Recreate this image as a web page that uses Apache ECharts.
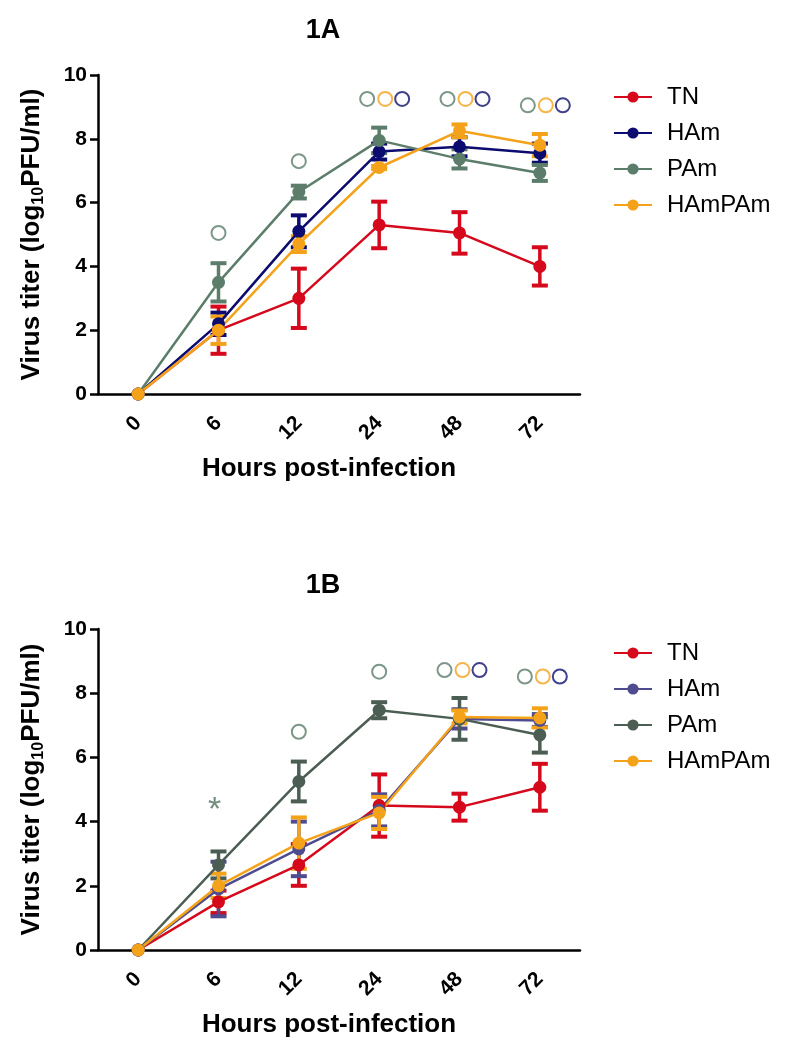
<!DOCTYPE html>
<html>
<head>
<meta charset="utf-8">
<script src="https://cdn.jsdelivr.net/npm/echarts@6/dist/echarts.min.js"></script>
<style>
  html, body { margin: 0; padding: 0; background: #fff; }
  #a { width: 793px; height: 545px; }
  #b { width: 793px; height: 505px; }
</style>
</head>
<body>
<div id="a"></div>
<div id="b"></div>
<script>
var hours = ['0', '6', '12', '24', '48', '72'];
var yTicks = [0, 2, 4, 6, 8, 10];
var names = ['TN', 'HAm', 'PAm', 'HAmPAm'];

// 1A  mean / error
var tnA = [0, 2.0, 3.0, 5.3, 5.05, 4.0];
var tnAErr = [0, 0.74, 0.93, 0.73, 0.65, 0.6];
var hamA = [0, 2.2, 5.1, 7.6, 7.75, 7.55];
var hamAErr = [0, 0.35, 0.5, 0.25, 0.3, 0.3];
var pamA = [0, 3.5, 6.33, 7.95, 7.37, 6.93];
var pamAErr = [0, 0.6, 0.2, 0.4, 0.3, 0.25];
var hpA = [0, 2.0, 4.7, 7.1, 8.25, 7.8];
var hpAErr = [0, 0.43, 0.25, 0.05, 0.2, 0.35];

// 1B  mean / error
var tnB = [0, 1.5, 2.65, 4.5, 4.45, 5.07];
var tnBErr = [0, 0.35, 0.65, 0.97, 0.42, 0.73];
var hamB = [0, 1.9, 3.15, 4.35, 7.2, 7.15];
var hamBErr = [0, 0.85, 0.85, 0.5, 0.3, 0.2];
var pamB = [0, 2.65, 5.25, 7.47, 7.2, 6.7];
var pamBErr = [0, 0.42, 0.62, 0.25, 0.65, 0.55];
var hpB = [0, 2.0, 3.33, 4.27, 7.26, 7.23];
var hpBErr = [0, 0.38, 0.8, 0.5, 0.2, 0.3];

// significance marks (open circles) per group
var sigA_PAm = [['6', 5.05], ['12', 7.3], ['24', 9.25], ['48', 9.25], ['72', 9.05]];
var sigA_HAmPAm = [['24', 9.25], ['48', 9.25], ['72', 9.05]];
var sigA_HAm = [['24', 9.25], ['48', 9.25], ['72', 9.05]];
var sigB_PAm = [['12', 6.8], ['24', 8.67], ['48', 8.72], ['72', 8.52]];
var sigB_HAmPAm = [['48', 8.72], ['72', 8.52]];
var sigB_HAm = [['48', 8.72], ['72', 8.52]];
var starB = [['6', 4.35]];

var FONT = "'Liberation Sans', Arial, sans-serif";

function errBar(color) {
    return function (params, api) {
        var i = api.value(0);
        var lo = api.coord([i, api.value(1)]);
        var hi = api.coord([i, api.value(2)]);
        var w = 8;
        var st = { stroke: color, lineWidth: 3.5 };
        var cap = { stroke: color, lineWidth: 4 };
        return {
            type: 'group',
            children: [
                { type: 'line', shape: { x1: hi[0], y1: hi[1], x2: lo[0], y2: lo[1] }, style: st },
                { type: 'line', shape: { x1: hi[0] - w, y1: hi[1], x2: hi[0] + w, y2: hi[1] }, style: cap },
                { type: 'line', shape: { x1: lo[0] - w, y1: lo[1], x2: lo[0] + w, y2: lo[1] }, style: cap }
            ]
        };
    };
}

function errData(mean, err) {
    var out = [];
    mean.forEach(function (m, i) {
        if (err[i] > 0) out.push([i, m - err[i], m + err[i]]);
    });
    return out;
}

function sigData(list, offset, all) {
    return list.map(function (d) {
        // several circles at the same hour are spread sideways
        var count = all.filter(function (l) {
            return l.some(function (e) { return e[0] === d[0]; });
        }).length;
        return { value: d, symbolOffset: [count > 1 ? offset : 0, 0] };
    });
}

function makePanel(el, cfg) {
    var chart = echarts.init(document.getElementById(el));
    var series = [];
    cfg.groups.forEach(function (g) {
        series.push({
            name: g.name, type: 'line', data: g.mean,
            symbol: 'circle', symbolSize: 13,
            lineStyle: { color: g.color, width: 2.5 },
            itemStyle: { color: g.color },
            z: 3
        });
        series.push({
            name: g.name + ' err', type: 'custom', data: errData(g.mean, g.err),
            renderItem: errBar(g.color), z: 3
        });
    });
    var sigAll = cfg.sig.map(function (s) { return s.data; });
    cfg.sig.forEach(function (s) {
        series.push({
            name: s.name + ' sig', type: 'scatter', symbol: 'emptyCircle', symbolSize: 14,
            data: sigData(s.data, s.offset, sigAll),
            itemStyle: { color: s.color, borderColor: s.color, borderWidth: 2.2 },
            z: 5
        });
    });
    if (cfg.star) {
        series.push({
            name: 'star', type: 'scatter', symbolSize: 1, data: cfg.star,
            itemStyle: { color: 'rgba(0,0,0,0)' },
            label: { show: true, position: 'inside', offset: [-4, 0], formatter: '*', fontSize: 34, color: '#4f6f5c', fontFamily: FONT },
            z: 5
        });
    }

    chart.setOption({
        animation: false,
        title: {
            text: cfg.title, left: 318, top: cfg.titleTop, textAlign: 'center',
            textStyle: { fontSize: 27, fontWeight: 'bold', color: '#000', fontFamily: FONT }
        },
        legend: {
            data: names, orient: 'vertical', left: 608, top: cfg.legendTop,
            itemWidth: 38, itemHeight: 14, itemGap: 12,
            textStyle: { fontSize: 24, color: '#000', fontFamily: FONT, padding: [0, 0, 0, 10] },
            selectedMode: false
        },
        grid: { left: 98, right: 213, top: cfg.gridTop, height: cfg.gridHeight },
        xAxis: {
            type: 'category', data: hours, boundaryGap: true,
            name: 'Hours post-infection', nameLocation: 'middle', nameGap: 62,
            nameTextStyle: { fontSize: 26, fontWeight: 'bold', color: '#000', fontFamily: FONT, padding: [0, 20, 0, 0] },
            axisLine: { lineStyle: { color: '#000', width: 2.5 } },
            axisTick: { alignWithLabel: true, length: 8, lineStyle: { color: '#000', width: 2.5 } },
            axisLabel: { rotate: 45, margin: 26, fontSize: 21, fontWeight: 'bold', color: '#000', fontFamily: FONT }
        },
        yAxis: {
            type: 'value', min: yTicks[0], max: yTicks[yTicks.length - 1], interval: 2,
            name: '{a|Virus titer (log}{s|10}{a|PFU/ml)}', nameLocation: 'middle', nameGap: 51,
            nameTextStyle: {
                rich: {
                    a: { fontSize: 26, fontWeight: 'bold', color: '#000', fontFamily: FONT },
                    s: { fontSize: 16, fontWeight: 'bold', color: '#000', fontFamily: FONT, verticalAlign: 'bottom', padding: [14, 0, 0, 0] }
                }
            },
            splitLine: { show: false },
            axisLine: { show: true, lineStyle: { color: '#000', width: 2.5 } },
            axisTick: { show: true, length: 8, lineStyle: { color: '#000', width: 2.5 } },
            axisLabel: { margin: 11, fontSize: 21, fontWeight: 'bold', color: '#000', fontFamily: FONT }
        },
        series: series
    });
}

makePanel('a', {
    title: '1A', titleTop: 12, legendTop: 80, gridTop: 75, gridHeight: 319,
    groups: [
        { name: 'TN', mean: tnA, err: tnAErr, color: '#d5091b' },
        { name: 'HAm', mean: hamA, err: hamAErr, color: '#0c0c70' },
        { name: 'PAm', mean: pamA, err: pamAErr, color: '#5b7d6a' },
        { name: 'HAmPAm', mean: hpA, err: hpAErr, color: '#f5a21b' }
    ],
    sig: [
        { name: 'PAm', data: sigA_PAm, offset: -12, color: '#5b7d6a' },
        { name: 'HAmPAm', data: sigA_HAmPAm, offset: 6, color: '#f5a21b' },
        { name: 'HAm', data: sigA_HAm, offset: 23, color: '#10106e' }
    ]
});

makePanel('b', {
    title: '1B', titleTop: 22, legendTop: 91, gridTop: 84, gridHeight: 321, star: starB,
    groups: [
        { name: 'TN', mean: tnB, err: tnBErr, color: '#d5091b' },
        { name: 'HAm', mean: hamB, err: hamBErr, color: '#4f4b8f' },
        { name: 'PAm', mean: pamB, err: pamBErr, color: '#4c5e54' },
        { name: 'HAmPAm', mean: hpB, err: hpBErr, color: '#f5a21b' }
    ],
    sig: [
        { name: 'PAm', data: sigB_PAm, offset: -15, color: '#5b7d6a' },
        { name: 'HAmPAm', data: sigB_HAmPAm, offset: 3, color: '#f5a21b' },
        { name: 'HAm', data: sigB_HAm, offset: 20, color: '#10106e' }
    ]
});
</script>
</body>
</html>
